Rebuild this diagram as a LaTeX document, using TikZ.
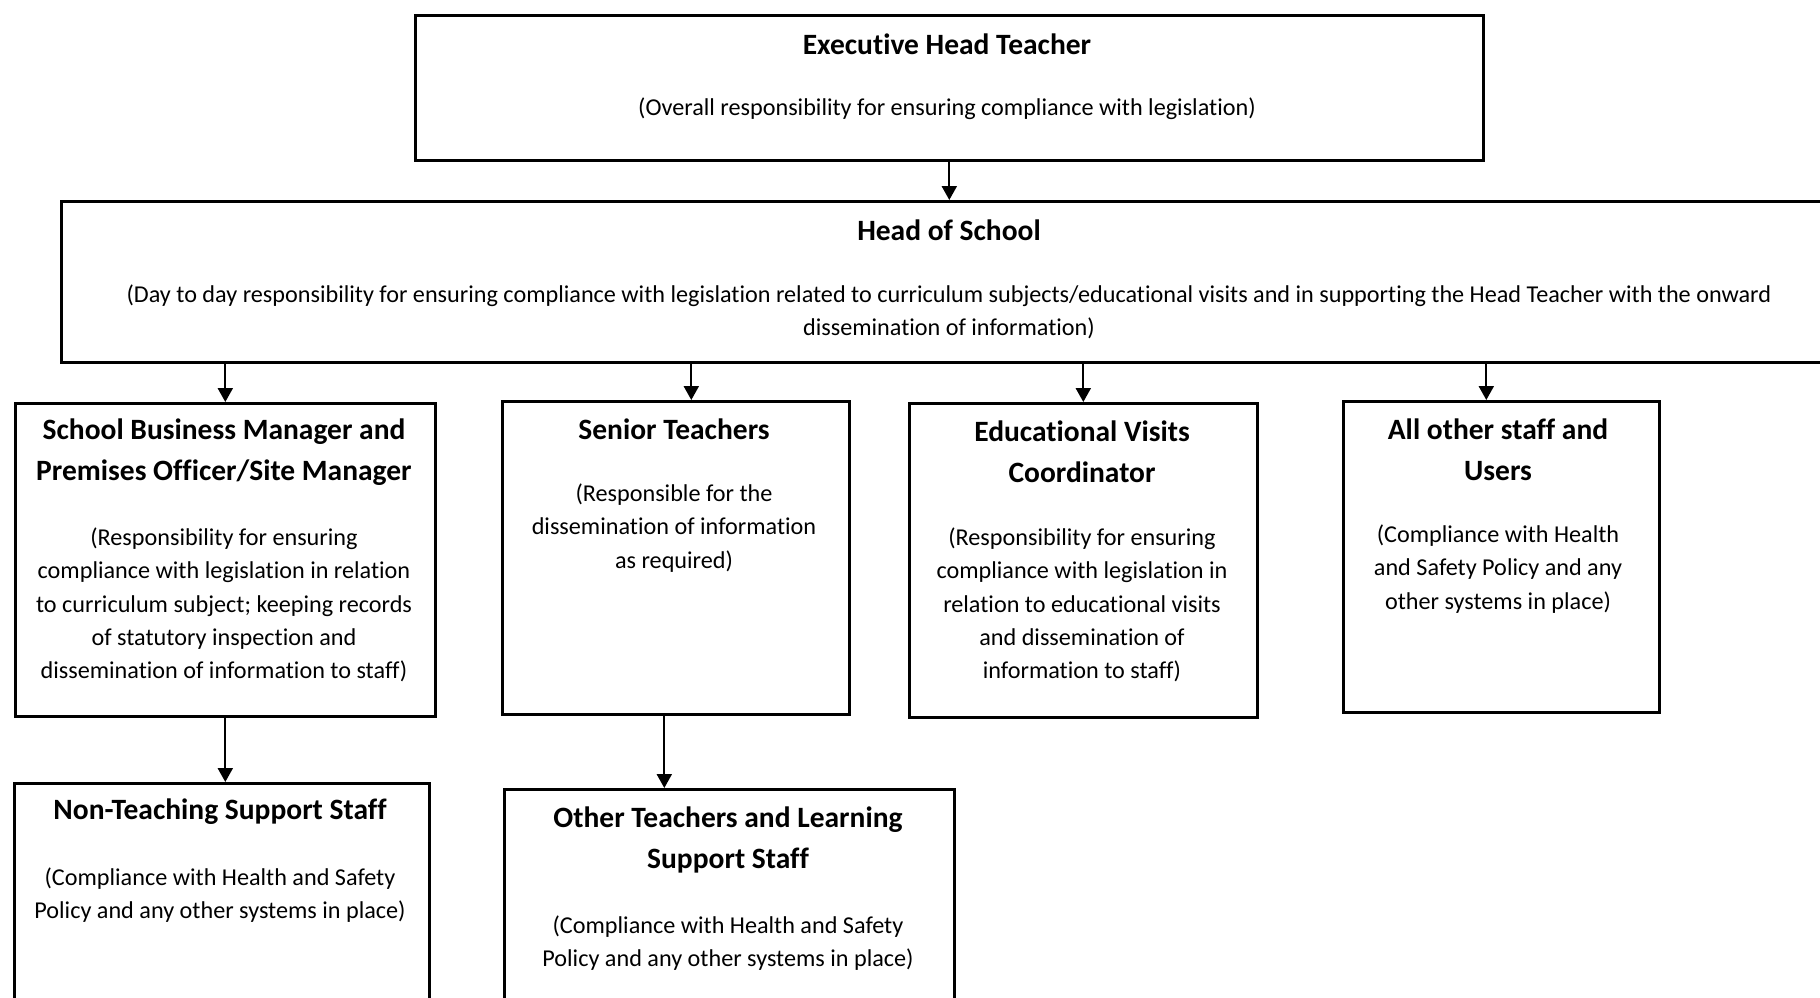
\documentclass[tikz,border=0pt]{standalone}
\usepackage{fontspec}
\setmainfont[Ligatures=NoCommon]{Carlito}
\usetikzlibrary{arrows.meta, positioning}
\tikzstyle{box} = [draw=black, line width=2.6pt, anchor=north west, inner sep=0pt]
\tikzstyle{ttl} = [font=\bfseries\fontsize{29.5}{40.6}\selectfont, align=center, inner sep=0pt]
\tikzstyle{txt} = [font=\fontsize{24.2}{33.4}\selectfont, align=center, inner sep=0pt]
\tikzstyle{arrow} = [line width=2.2pt, -{Triangle[length=14pt,width=15pt]}]

\begin{document}
\begin{tikzpicture}[x=1pt, y=-1pt]
\useasboundingbox (0,0) rectangle (1820,998);
\clip (0,0) rectangle (1820,998);

% boxes
\node (exec) [box, minimum width=1068pt, minimum height=145pt] at (414,14) {};
\node (hos) [box, minimum width=1800pt, minimum height=161pt] at (60,200) {};
\node (sbm) [box, minimum width=420pt, minimum height=313pt] at (14,402) {};
\node (st) [box, minimum width=347pt, minimum height=313pt] at (501,400) {};
\node (evc) [box, minimum width=348pt, minimum height=314pt] at (908,402) {};
\node (aos) [box, minimum width=316pt, minimum height=311pt] at (1342,400) {};
\node (nts) [box, minimum width=415pt, minimum height=240pt] at (13,782) {};
\node (ots) [box, minimum width=450pt, minimum height=240pt] at (503,788) {};

% texts
\node (execT) [ttl] at (947,44) {Executive Head Teacher};
\node (execB) [txt] at (947,109) {(Overall responsibility for ensuring compliance with legislation)};
\node (hosT) [ttl] at (949,230) {Head of School};
\node (hosB) [txt] at (949,312) {(Day to day responsibility for ensuring compliance with legislation related to curriculum subjects/educational visits and in supporting the Head Teacher with the onward\\dissemination of information)};
\node (sbmT) [ttl] at (224,452) {School Business Manager and\\Premises Officer/Site Manager};
\node (sbmB) [txt] at (224,605) {(Responsibility for ensuring\\compliance with legislation in relation\\to curriculum subject; keeping records\\of statutory inspection and\\dissemination of information to staff)};
\node (stT) [ttl] at (674,429) {Senior Teachers};
\node (stB) [txt] at (674,528) {(Responsible for the\\dissemination of information\\as required)};
\node (evcT) [ttl] at (1082,452) {Educational Visits\\Coordinator};
\node (evcB) [txt] at (1082,605) {(Responsibility for ensuring\\compliance with legislation in\\relation to educational visits\\and dissemination of\\information to staff)};
\node (aosT) [ttl] at (1498,450) {All other staff and\\Users};
\node (aosB) [txt] at (1498,569) {(Compliance with Health\\and Safety Policy and any\\other systems in place)};
\node (ntsT) [ttl] at (220,812) {Non-Teaching Support Staff};
\node (ntsB) [txt] at (220,895) {(Compliance with Health and Safety\\Policy and any other systems in place)};
\node (otsT) [ttl] at (728,840) {Other Teachers and Learning\\Support Staff};
\node (otsB) [txt] at (728,943) {(Compliance with Health and Safety\\Policy and any other systems in place)};

% arrows
\coordinate (stIn) at ([xshift=15.5pt]st.north);
\coordinate (aosIn) at ([xshift=-15pt]aos.north);
\coordinate (stOut) at ([xshift=-11.5pt]st.south);
\draw [arrow] (exec.south) -- (exec.south |- hos.north);
\draw [arrow] (sbm.north |- hos.south) -- (sbm.north);
\draw [arrow] (stIn |- hos.south) -- (stIn);
\draw [arrow] (evc.north |- hos.south) -- (evc.north);
\draw [arrow] (aosIn |- hos.south) -- (aosIn);
\draw [arrow] (sbm.south) -- (sbm.south |- nts.north);
\draw [arrow] (stOut) -- (stOut |- ots.north);

\end{tikzpicture}
\end{document}
